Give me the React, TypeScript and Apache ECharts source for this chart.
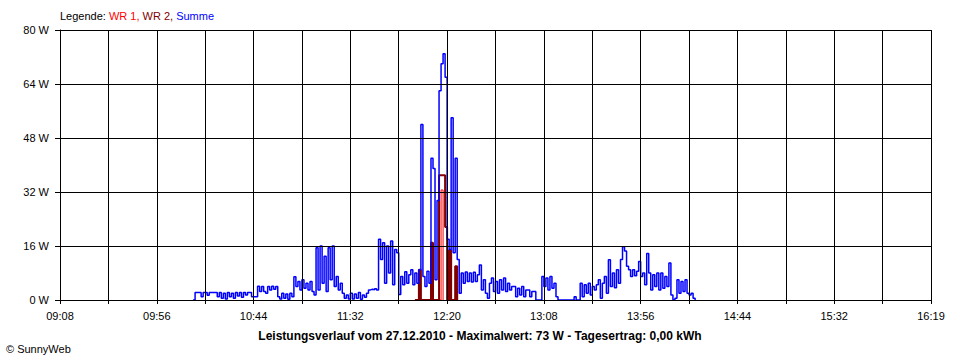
import React, { useEffect, useRef } from "react";
import * as echarts from "echarts";

// X axis: minutes since the first tick label
const axisStart = "09:08";
const xTickLabels = ["09:08", "09:56", "10:44", "11:32", "12:20", "13:08", "13:56", "14:44", "15:32", "16:19"];
const yTickUnit = " W";

// Summe (blue), one value per minute starting at summeStart
const summeStart = "10:14";
const summeValues = [
  0,
  2.2, 2.2, 2.2, 1.0, 2.2, 2.2, 1.4, 2.2, 2.2, 2.2, 2.2,
  1.0, 2.2, 0.5, 2.0, 0.3, 2.2, 1.0, 2.0, 0.5, 2.2, 1.2, 2.2, 0.8, 2.2, 1.5, 2.2, 2.2,
  1.0, 1.0, 1.0,
  4.1, 2.5, 4.0, 2.5, 2.0,
  4.0, 3.0, 4.1, 3.2, 4.0,
  1.0, 0.3, 2.0, 0.5, 1.8, 0.2, 2.0, 1.0,
  6.9, 4.0,
  5.5, 3.0, 6.0, 3.5, 5.0, 3.0, 5.5,
  2.5, 1.5,
  15.5, 3.0, 16.0, 5.0, 13.0, 2.5, 15.5, 6.0, 16.0, 4.0,
  7.0, 3.0, 5.0, 2.0,
  0.5, 1.5, 0.3,
  2.0, 0.3, 1.8, 0.5, 2.2, 0.2, 1.5, 0.8, 2.0,
  3.0, 3.2, 3.0, 3.3, 3.0,
  18.0, 12.0, 17.0, 5.0, 16.0, 8.0, 17.5, 4.5, 15.0,
  14.0,
  1.6,
  7.0, 4.5, 8.4, 5.0, 7.5, 9.0, 4.5, 8.0, 5.0,
  9.0,
  52,
  7.0, 4.0, 8.5, 5.0,
  42, 39, 6.0, 29.5, 62, 70, 73, 66, 18, 15, 54, 14, 42, 12,
  2.0, 8.0, 5.0, 8.3, 5.5, 8.0, 5.3, 8.2, 5.5, 7.5, 10.4, 3.0,
  6.0, 2.0, 0.5, 5.0,
  6.5, 2.5, 5.5, 2.0, 6.0, 3.0, 6.5, 2.5, 5.0, 3.0, 4.0,
  4.0, 1.0, 3.5, 1.5, 4.0, 1.0, 3.0,
  3.0, 1.0, 2.5, 2.5,
  0, 0, 0,
  7.0, 4.0, 6.5, 3.0, 7.0, 3.5, 5.0, 1.0,
  0, 0, 0, 0, 0, 0, 0, 0,
  1.0,
  0, 0,
  5.0, 1.0, 4.5, 2.0, 5.0, 1.5, 4.0,
  3.0, 4.5, 6.0,
  0.5,
  5.0,
  7.0, 2.0, 11.9, 4.0, 8.0, 3.6, 9.0, 5.0, 12.0,
  15.8, 14.5, 10.0,
  9.0, 7.0, 9.0, 7.2, 8.5, 11.4, 7.0,
  8.0, 4.5, 13.8,
  8.0, 3.0, 7.5, 4.0, 8.0, 3.0, 8.0, 3.5, 7.0, 4.0, 11.0,
  1.5, 0, 0.5,
  6.0, 2.0, 5.5, 2.5, 6.0,
  2.0, 1.5, 2.0,
  0.5,
  0,
];

// WR 2 (dark red)
const wr2Start = "12:04";
const wr2Values = [0, 0, 9, 0, 0, 0, 0, 0, 17, 0, 0, 0, 37, 37, 37, 21.6, 0, 14.8, 0, 0, 10, 0];

// WR 1 (red)
const wr1Start = "12:16";
const wr1Values = [0, 32.6, 0];

const toMin = (t: string) => {
  const [h, m] = t.split(":").map(Number);
  return h * 60 + m;
};
const base = toMin(axisStart);
const toSeries = (start: string, vals: number[]) => {
  const s = toMin(start) - base;
  return vals.map((v, i) => [s + i, v]);
};

const FONT = "Liberation Sans";

export default function App() {
  const ref = useRef<HTMLDivElement>(null);
  useEffect(() => {
    if (!ref.current) return;
    const chart = echarts.init(ref.current, null, { renderer: "svg" });
    const axisMax = (xTickLabels.length - 1) * 48;
    chart.setOption({
      animation: false,
      backgroundColor: "#ffffff",
      title: [
        {
          left: 60,
          top: 10,
          padding: 0,
          text: "{k|Legende: }{a|WR 1, }{b|WR 2, }{c|Summe}",
          textStyle: {
            fontFamily: FONT,
            fontSize: 11,
            fontWeight: "normal",
            rich: {
              k: { color: "#000000", fontFamily: FONT, fontSize: 11 },
              a: { color: "#ff0000", fontFamily: FONT, fontSize: 11 },
              b: { color: "#800000", fontFamily: FONT, fontSize: 11 },
              c: { color: "#0000ff", fontFamily: FONT, fontSize: 11 },
            },
          },
        },
        {
          left: "center",
          top: 330,
          padding: 0,
          text: "Leistungsverlauf vom 27.12.2010 - Maximalwert: 73 W - Tagesertrag: 0,00 kWh",
          textStyle: { fontFamily: FONT, fontSize: 12, fontWeight: "bold", color: "#000000" },
        },
        {
          left: 6,
          top: 343,
          padding: 0,
          text: "© SunnyWeb",
          textStyle: { fontFamily: FONT, fontSize: 11, fontWeight: "normal", color: "#000000" },
        },
      ],
      grid: { left: 60, right: 29, top: 30, bottom: 60 },
      xAxis: {
        type: "value",
        min: 0,
        max: axisMax,
        interval: 24,
        z: 10,
        axisLine: { show: true, onZero: false, lineStyle: { color: "#000000", width: 1 } },
        axisTick: { show: true, length: 4, lineStyle: { color: "#000000", width: 1 } },
        axisLabel: {
          color: "#000000",
          fontFamily: FONT,
          fontSize: 11,
          margin: 10,
          showMinLabel: true,
          showMaxLabel: true,
          formatter: (v: number) => (v % 48 === 0 ? xTickLabels[v / 48] : ""),
        },
        splitLine: { show: true, lineStyle: { color: "#000000", width: 1 } },
      },
      yAxis: {
        type: "value",
        min: 0,
        max: 80,
        interval: 16,
        z: 10,
        axisLine: { show: true, lineStyle: { color: "#000000", width: 1 } },
        axisTick: { show: true, length: 5, lineStyle: { color: "#000000", width: 1 } },
        axisLabel: {
          color: "#000000",
          fontFamily: FONT,
          fontSize: 11,
          margin: 11,
          formatter: (v: number) => v + yTickUnit,
        },
        splitLine: { show: true, lineStyle: { color: "#000000", width: 1 } },
      },
      series: [
        {
          name: "WR 1",
          type: "line",
          step: "end",
          z: 2,
          showSymbol: false,
          data: toSeries(wr1Start, wr1Values),
          lineStyle: { color: "#ff0000", width: 1 },
          itemStyle: { color: "#ff0000" },
        },
        {
          name: "WR 2",
          type: "line",
          step: "end",
          z: 3,
          showSymbol: false,
          data: toSeries(wr2Start, wr2Values),
          lineStyle: { color: "#800000", width: 2 },
          itemStyle: { color: "#800000" },
        },
        {
          name: "Summe",
          type: "line",
          step: "end",
          z: 4,
          showSymbol: false,
          data: toSeries(summeStart, summeValues),
          lineStyle: { color: "#0000ff", width: 1.5 },
          itemStyle: { color: "#0000ff" },
        },
      ],
    });
    return () => chart.dispose();
  }, []);
  return (
    <div
      ref={ref}
      style={{ position: "fixed", left: 0, top: 0, width: 960, height: 360, background: "#fff" }}
    />
  );
}
